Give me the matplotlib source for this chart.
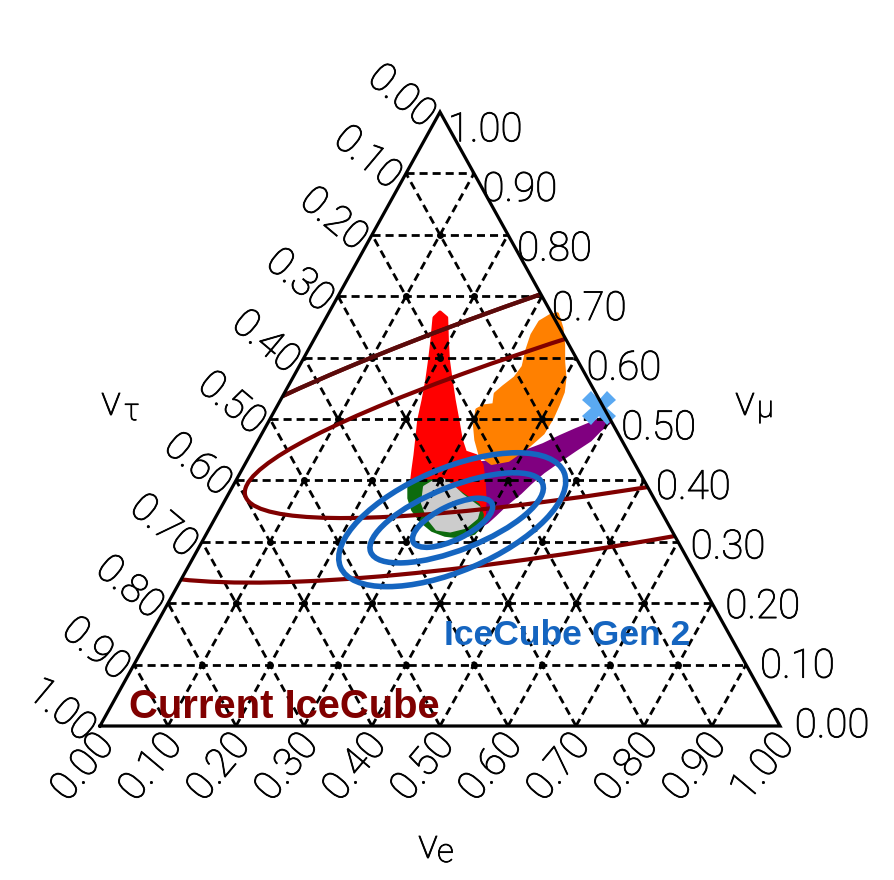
import numpy as np
import matplotlib
matplotlib.use("Agg")
import matplotlib.pyplot as plt
import matplotlib.patheffects as pe
from matplotlib.patches import Ellipse, Polygon

# tick values / labels (same on all three axes)
ticks = [0.0, 0.1, 0.2, 0.3, 0.4, 0.5, 0.6, 0.7, 0.8, 0.9, 1.0]
tick_labels = ['0.00', '0.10', '0.20', '0.30', '0.40', '0.50',
               '0.60', '0.70', '0.80', '0.90', '1.00']

# flavour regions, outlines as (nu_e, nu_mu) fractions
red_e = [0.163, 0.177, 0.196, 0.214, 0.234, 0.255, 0.277, 0.298, 0.314, 0.333,
         0.349, 0.364, 0.382, 0.393, 0.393, 0.378, 0.328, 0.279, 0.263, 0.252,
         0.243, 0.233, 0.220, 0.210, 0.199, 0.187, 0.174, 0.159]
red_mu = [0.674, 0.665, 0.629, 0.596, 0.564, 0.531, 0.498, 0.466, 0.446, 0.440,
          0.425, 0.401, 0.368, 0.344, 0.332, 0.332, 0.344, 0.368, 0.389, 0.417,
          0.441, 0.466, 0.498, 0.531, 0.564, 0.596, 0.629, 0.665]

orange_e = [0.328, 0.337, 0.355, 0.371, 0.385, 0.400, 0.409, 0.412, 0.414, 0.413,
            0.401, 0.384, 0.362, 0.338, 0.320, 0.306, 0.297, 0.304, 0.318, 0.311,
            0.317, 0.327, 0.330, 0.322, 0.317, 0.318]
orange_mu = [0.668, 0.671, 0.648, 0.621, 0.593, 0.567, 0.544, 0.523, 0.502, 0.477,
             0.454, 0.433, 0.428, 0.442, 0.466, 0.490, 0.515, 0.521, 0.523, 0.541,
             0.552, 0.567, 0.585, 0.612, 0.637, 0.658]

purple_e = [0.342, 0.359, 0.372, 0.390, 0.408, 0.423, 0.441, 0.458, 0.475, 0.489,
            0.499, 0.502, 0.494, 0.488, 0.474, 0.460, 0.445, 0.435, 0.428, 0.416,
            0.409, 0.403, 0.398, 0.383, 0.364, 0.350]
purple_mu = [0.428, 0.430, 0.432, 0.441, 0.450, 0.458, 0.471, 0.482, 0.492, 0.502,
             0.502, 0.495, 0.482, 0.466, 0.450, 0.433, 0.414, 0.396, 0.380, 0.360,
             0.344, 0.332, 0.327, 0.352, 0.384, 0.409]

green_e = [0.260, 0.269, 0.286, 0.301, 0.323, 0.352, 0.376, 0.390, 0.397, 0.393,
           0.376, 0.352, 0.329, 0.305, 0.284, 0.269]
green_mu = [0.389, 0.397, 0.399, 0.397, 0.389, 0.373, 0.360, 0.344, 0.326, 0.314,
            0.308, 0.311, 0.319, 0.334, 0.352, 0.371]

gray_e = [0.283, 0.291, 0.304, 0.322, 0.344, 0.366, 0.380, 0.384, 0.375, 0.356,
          0.335, 0.313, 0.293]
gray_mu = [0.389, 0.397, 0.401, 0.391, 0.376, 0.363, 0.355, 0.339, 0.324, 0.318,
           0.321, 0.339, 0.363]

# source point
src_e = 0.475
src_mu = 0.518

# IceCube Gen 2 contours: centre (nu_e, nu_mu), axes in triangle-side units, tilt
gen2_e = [0.353, 0.355, 0.350]
gen2_mu = [0.331, 0.339, 0.336]
gen2_w = [0.129, 0.272, 0.357]
gen2_h = [0.050, 0.093, 0.151]
gen2_ang = [26.0, 21.7, 23.0]

# current IceCube contours (centres lie outside the triangle, clipped)
ic_e = [1.050, 1.045]
ic_mu = [0.679, 0.690]
ic_w = [2.415, 2.888]
ic_h = [0.287, 0.443]
ic_ang = [13.1, 14.1]

H = 614 / 680  # drawn height of the triangle relative to its side


def tern(e, mu):
    e = np.asarray(e, dtype=float)
    mu = np.asarray(mu, dtype=float)
    return e + mu / 2, mu * H


def px(x, y):
    return x / 894, 1 - y / 880


light = dict(family='Roboto', weight='light', color='black',
             path_effects=[pe.withStroke(linewidth=0.6, foreground='black')])

fig = plt.figure(figsize=(8.94, 8.80), dpi=100)
ax = fig.add_axes([0, 0, 1, 1])
ax.set_xlim(-100 / 680, 794 / 680)
ax.set_ylim(-154 / 680, 726 / 680)
ax.axis('off')

# regions
for ee, mm, c in [(purple_e, purple_mu, '#800080'), (orange_e, orange_mu, '#ff8000'),
                  (red_e, red_mu, '#ff0000'), (green_e, green_mu, '#0d6b0d'),
                  (gray_e, gray_mu, '#cccccc')]:
    x, y = tern(ee, mm)
    ax.fill(x, y, color=c, ec=c, lw=2.5, joinstyle='round', zorder=1)

# dashed grid
grid_kw = dict(color='black', lw=2.0, ls=(0, (2.9, 1.8)), zorder=2)
for t in ticks[1:-1]:
    x, y = tern([0, 1 - t], [t, t])
    ax.plot(x, y, **grid_kw)
    x, y = tern([t, t], [0, 1 - t])
    ax.plot(x, y, **grid_kw)
    x, y = tern([1 - t, 0], [0, 1 - t])
    ax.plot(x, y, **grid_kw)
    for s in ticks[1:-1]:
        if s + t < 0.95:
            x, y = tern(s, t)
            ax.plot(x, y, 'o', color='black', ms=4, zorder=2)

# triangle outline, also used to clip contours
tx, ty = tern([0, 1, 0, 0], [0, 0, 1, 0])
tri = Polygon(np.column_stack([tx[:3], ty[:3]]), closed=True, fill=False,
              transform=ax.transData)
top_x, top_y = tern([0, 0.55, 0], [0.45, 0.45, 1.0])
top = Polygon(np.column_stack([top_x, top_y]), closed=True, fill=False,
              transform=ax.transData)

# current IceCube
for i in range(len(ic_e)):
    cx, cy = tern(ic_e[i], ic_mu[i])
    el = Ellipse((cx, cy), ic_w[i], ic_h[i], angle=ic_ang[i], fill=False,
                 ec='#800000', lw=3.0, zorder=3)
    ax.add_patch(el)
    el.set_clip_path(tri)
    if i == 1:
        el2 = Ellipse((cx, cy), ic_w[i], ic_h[i], angle=ic_ang[i], fill=False,
                      ec='#5a0b0b', lw=3.0, zorder=3.1)
        ax.add_patch(el2)
        el2.set_clip_path(top)

# IceCube Gen 2
for i in range(len(gen2_e)):
    cx, cy = tern(gen2_e[i], gen2_mu[i])
    ax.add_patch(Ellipse((cx, cy), gen2_w[i], gen2_h[i], angle=gen2_ang[i],
                         fill=False, ec='#1565c0', lw=4.0, zorder=4))

x, y = tern(src_e, src_mu)
ax.plot(x, y, marker='X', ms=24, color='#5aa9f2', mew=0, zorder=5)

ax.plot(tx, ty, color='black', lw=2.3, zorder=6, solid_joinstyle='miter')

# tick labels
for t, lab in zip(ticks, tick_labels):
    x, y = tern(t, 0)
    ax.annotate(lab, (x, y), xytext=(5, -9), textcoords='offset points',
                rotation=50, rotation_mode='anchor', ha='right', va='center',
                fontsize=29, **light)
    x, y = tern(1 - t, t)
    ax.annotate(lab, (x, y), xytext=(10.6 - 5 * t, -13 * t), textcoords='offset points',
                ha='left', va='center', fontsize=29, **light)
    x, y = tern(0, 1 - t)
    ax.annotate(lab, (x, y), xytext=(-7, -6), textcoords='offset points',
                rotation=-40, rotation_mode='anchor', ha='right', va='center',
                fontsize=29, **light)

# axis titles
fig.text(*px(101, 415), '\u03bd', fontsize=30, ha='left', va='baseline', **light)
fig.text(*px(124, 420), '\u03c4', fontsize=22, ha='left', va='baseline', **light)
fig.text(*px(735, 415), '\u03bd', fontsize=30, ha='left', va='baseline', **light)
fig.text(*px(757, 417), '\u03bc', fontsize=22, ha='left', va='baseline', **light)
fig.text(*px(418, 858), '\u03bd', fontsize=30, ha='left', va='baseline', **light)
fig.text(*px(437, 862), 'e', fontsize=24, ha='left', va='baseline', **light)

fig.text(*px(129, 718), 'Current IceCube', fontsize=28.8, fontweight='bold',
         family='Liberation Sans', color='#800000', ha='left', va='baseline', zorder=7)
fig.text(*px(444, 645), 'IceCube Gen 2', fontsize=25.5, fontweight='bold',
         family='Liberation Sans', color='#1565c0', ha='left', va='baseline', zorder=7)

fig.savefig('out.png', dpi=100)
